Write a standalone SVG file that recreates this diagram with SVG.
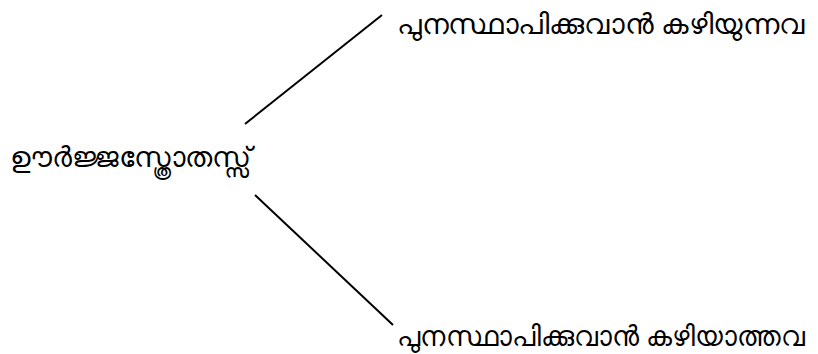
<svg xmlns="http://www.w3.org/2000/svg" width="818" height="354" viewBox="0 0 818 354">
<style>
text{font-family:"Noto Sans","DejaVu Sans",sans-serif;font-size:28px;fill:#000}
.c line{stroke:#000;stroke-width:2}
</style>
<rect width="818" height="354" fill="#fff"/>
<g class="c" id="connectors">
<line x1="245" y1="124" x2="382" y2="15"/>
<line x1="255" y1="195" x2="393" y2="325"/>
</g>
<g id="source"><text x="10" y="167" textLength="242" lengthAdjust="spacingAndGlyphs">ഊർജ്ജസ്ത്രോതസ്സ്</text></g>
<g id="renewable"><text x="397" y="34" textLength="408" lengthAdjust="spacingAndGlyphs">പുനസ്ഥാപിക്കുവാൻ  കഴിയുന്നവ</text></g>
<g id="nonrenewable"><text x="397" y="346" textLength="408" lengthAdjust="spacingAndGlyphs">പുനസ്ഥാപിക്കുവാൻ  കഴിയാത്തവ</text></g>
</svg>
